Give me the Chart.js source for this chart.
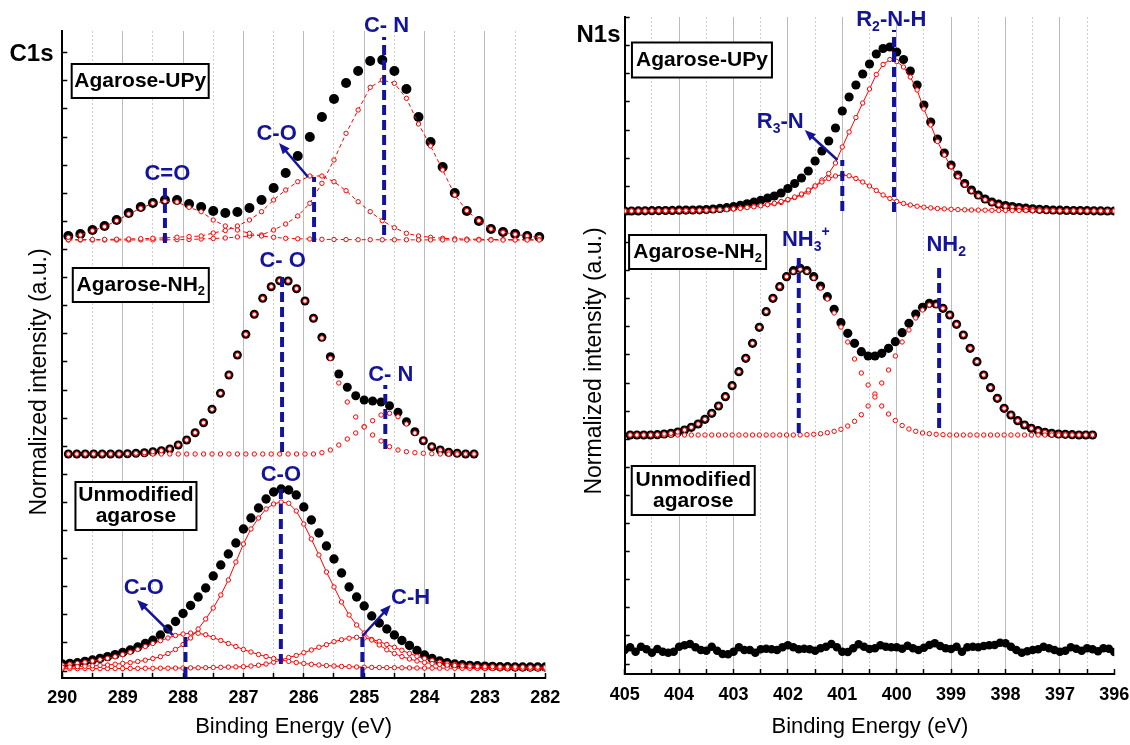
<!DOCTYPE html>
<html>
<head>
<meta charset="utf-8">
<script src="https://cdn.jsdelivr.net/npm/chart.js@4.4.1/dist/chart.umd.min.js"></script>
<style>
html, body { margin: 0; padding: 0; background: #fff; overflow: hidden; }
#wrap { position: relative; width: 1130px; height: 745px; overflow: hidden; }
canvas { position: absolute; top: 0; }
#c1s { left: 0; }
#n1s { left: 565px; }
</style>
</head>
<body>
<div id="wrap">
  <canvas id="c1s" width="600" height="745"></canvas>
  <canvas id="n1s" width="600" height="745"></canvas>
</div>
<script>
const FONT = "'Liberation Sans', Arial, Helvetica, sans-serif";
const BLUE = '#14149b';
const RED = '#ff0000';

// ---------- C1s : Agarose-UPy ----------
const c1sUpyE = [289.9, 289.7, 289.5, 289.3, 289.1, 288.9, 288.7, 288.5, 288.3, 288.1,
  287.9, 287.7, 287.5, 287.3, 287.1, 286.9, 286.7, 286.5, 286.3, 286.1,
  285.9, 285.7, 285.5, 285.3, 285.1, 284.9, 284.7, 284.5, 284.3, 284.1,
  283.9, 283.7, 283.5, 283.3, 283.1, 282.9, 282.7, 282.5, 282.3, 282.1];
const c1sUpyRaw = [4, 6, 10, 14, 20, 27, 33, 37, 40, 40,
  36, 33, 29, 27, 28, 32, 40, 52, 67, 84,
  103, 123, 141, 157, 169, 179, 180, 169, 151, 123,
  98, 73, 47, 29, 19, 11, 8, 6, 4, 3];
const c1sUpyCdO = [2.7, 5, 9.3, 13.3, 19.3, 26, 31.7, 36.7, 38.7, 38,
  32.7, 28.3, 20, 14, 10, 6.7, 4, 2.7, 1.7, 1.2,
  1, 0.7, 0.5, 0.4, 0.3, 0.3, 0.2, 0.2, 0.2, 0.1,
  0.1, 0.1, 0.1, 0, 0, 0, 0, 0, 0, 0];
const c1sUpyCO = [0.3, 0.4, 0.5, 0.6, 0.8, 1, 1.3, 1.7, 2.2, 2.8,
  3.4, 4, 7, 9.5, 14, 20, 28.3, 40, 50, 58.3,
  64, 64, 58.3, 49.3, 38.3, 28.3, 19.3, 12.3, 6.7, 4,
  2.7, 1.7, 1.2, 0.9, 0.7, 0.5, 0.4, 0.3, 0.3, 0.2];
const c1sUpyCN = [0, 0, 0, 0, 0, 0, 0.1, 0.1, 0.2, 0.3,
  0.5, 1, 1.5, 2, 3, 4, 5, 10, 16, 24,
  36.7, 56.7, 80, 106.7, 130, 152.7, 160, 156.7, 141.7, 116,
  94, 70, 45, 29.3, 19.3, 11, 7.7, 5.7, 4, 2.7];

// ---------- C1s : Agarose-NH2 ----------
const c1sNh2E = [289.9, 289.76, 289.62, 289.48, 289.34, 289.2, 289.06, 288.92, 288.78, 288.64,
  288.5, 288.36, 288.22, 288.08, 287.94, 287.8, 287.66, 287.52, 287.38, 287.24,
  287.1, 286.96, 286.82, 286.68, 286.54, 286.4, 286.26, 286.12, 285.98, 285.84,
  285.7, 285.56, 285.42, 285.28, 285.14, 285.0, 284.86, 284.72, 284.58, 284.44,
  284.3, 284.16, 284.02, 283.88, 283.74, 283.6, 283.46, 283.32, 283.18];
const c1sNh2Raw = [0, 0, 0, 0, 0, 0, 0, 0.3, 0.7, 1.3,
  2.3, 3.3, 5, 9, 14, 21.3, 31.3, 44.7, 60.7, 79,
  99, 119.7, 139.7, 155.7, 167.3, 173.3, 173, 165.3, 153, 135.7,
  116.7, 97.3, 80, 66.7, 58.3, 54, 53, 52, 48.3, 41.7,
  32.3, 22.3, 13.3, 7.3, 4, 1.7, 0.7, 0, 0];
const c1sNh2CO = [0, 0, 0, 0, 0, 0, 0, 0.3, 0.7, 1.3,
  2.3, 3.3, 5, 9, 14, 21.3, 31.3, 44.7, 60.7, 79,
  99, 119.7, 139.7, 155.7, 167.3, 173.3, 173, 165.3, 153, 135.7,
  116, 95.7, 71, 52, 37, 27, 19, 13, 7.3, 4,
  2.3, 1.3, 0.7, 0.3, 0, 0, 0, 0, 0];
const c1sNh2CN = [0, 0, 0, 0, 0, 0, 0, 0, 0, 0,
  0, 0, 0, 0, 0, 0, 0, 0, 0, 0,
  0, 0, 0, 0, 0, 0, 0, 0, 0, 0,
  1.3, 4, 9, 15, 21, 27.3, 33.3, 39, 40.7, 37.3,
  30, 21, 13.3, 7.3, 4, 1.7, 0.7, 0, 0];

// ---------- C1s : Unmodified agarose ----------
const c1sAgE = [290, 289.875, 289.75, 289.625, 289.5, 289.375, 289.25, 289.125, 289, 288.875,
  288.75, 288.625, 288.5, 288.375, 288.25, 288.125, 288, 287.875, 287.75, 287.625,
  287.5, 287.375, 287.25, 287.125, 287, 286.875, 286.75, 286.625, 286.5, 286.375,
  286.25, 286.125, 286, 285.875, 285.75, 285.625, 285.5, 285.375, 285.25, 285.125,
  285, 284.875, 284.75, 284.625, 284.5, 284.375, 284.25, 284.125, 284, 283.875,
  283.75, 283.625, 283.5, 283.375, 283.25, 283.125, 283, 282.875, 282.75, 282.625,
  282.5, 282.375, 282.25, 282.125, 282];
const c1sAgRaw = [5, 5.6, 6.3, 7.6, 9, 10.6, 12.4, 14.4, 16.5, 19,
  22, 25.5, 28.7, 34, 40, 47.5, 55.5, 63.5, 72, 81,
  93, 104, 115, 126, 140, 151, 161, 170, 177, 180,
  179, 174, 162, 149, 136, 123, 110, 96, 82, 72,
  63, 53, 46, 40, 34, 28.5, 23.5, 18.5, 14, 10.5,
  8, 6.3, 5, 4.2, 3.6, 3.2, 2.9, 2.6, 2.3, 2.2,
  2, 2, 2, 2, 2];
const c1sAgCO286 = [1.7, 2, 2.4, 2.8, 3.2, 3.6, 4, 4.8, 5.6, 6.4,
  7.5, 8.8, 10.4, 12.3, 15.5, 19.5, 24.5, 31, 40, 50,
  61, 74, 89, 107, 125, 140, 151, 160, 165, 167,
  165.7, 158, 145, 130, 114, 97, 82, 67, 54, 44,
  36, 29, 24, 19.2, 15.5, 12.4, 10, 8, 6.5, 5.5,
  4.6, 3.9, 3.5, 3.1, 2.8, 2.5, 2.3, 2.2, 2.1, 2,
  2, 1.9, 1.8, 1.8, 1.7];
const c1sAgCO288 = [4, 4.8, 5.7, 6.8, 8, 9.3, 10.7, 12.3, 14.5, 16.8,
  19.5, 22.5, 25.5, 28.3, 31, 33.5, 35, 36, 35.7, 34.3,
  31.5, 28.5, 25.5, 22.5, 19.5, 17, 14.5, 12.5, 10.5, 9,
  7.6, 6.5, 5.5, 4.7, 4, 3.4, 3, 2.6, 2.3, 2,
  1.8, 1.6, 1.5, 1.4, 1.3, 1.2, 1.1, 1, 0.9, 0.9,
  0.8, 0.8, 0.7, 0.7, 0.6, 0.6, 0.5, 0.5, 0.5, 0.4,
  0.4, 0.4, 0.3, 0.3, 0.3];
const c1sAgCH = [0.3, 0.3, 0.3, 0.4, 0.4, 0.4, 0.5, 0.5, 0.5, 0.6,
  0.6, 0.7, 0.7, 0.8, 0.8, 0.9, 1, 1.1, 1.2, 1.3,
  1.5, 1.7, 1.9, 2.1, 2.3, 3, 3.8, 5, 6.8, 9,
  11.5, 13.5, 16.3, 19, 21.8, 24.3, 27.3, 29.3, 30.8, 31.7,
  31, 29.5, 27.5, 24.5, 21.7, 18.7, 15.5, 12.7, 10.5, 8.6,
  6.8, 5.6, 4.6, 3.8, 3.2, 2.7, 2.2, 1.8, 1.5, 1.2,
  1, 0.8, 0.6, 0.4, 0.3];

// vertical stacking offsets of the C1s spectra
const c1sUpyOffset = 438;
const c1sNh2Offset = 224;
const c1sAgOffset = 9;

// ---------- N1s : Agarose-UPy ----------
const n1sUpyE = [405, 404.875, 404.75, 404.625, 404.5, 404.375, 404.25, 404.125, 404, 403.875,
  403.75, 403.625, 403.5, 403.375, 403.25, 403.125, 403, 402.875, 402.75, 402.625,
  402.5, 402.375, 402.25, 402.125, 402, 401.875, 401.75, 401.625, 401.5, 401.375,
  401.25, 401.125, 401, 400.875, 400.75, 400.625, 400.5, 400.375, 400.25, 400.125,
  400, 399.875, 399.75, 399.625, 399.5, 399.375, 399.25, 399.125, 399, 398.875,
  398.75, 398.625, 398.5, 398.375, 398.25, 398.125, 398, 397.875, 397.75, 397.625,
  397.5, 397.375, 397.25, 397.125, 397, 396.875, 396.75, 396.625, 396.5, 396.375,
  396.25, 396.125, 396];
const n1sUpyRaw = [0, 0, 0.1, 0.2, 0.3, 0.4, 0.5, 0.6, 0.8, 0.9,
  1, 1.2, 1.5, 2, 2.6, 3.3, 4.3, 5.7, 7.2, 8.8,
  10.6, 12.8, 15, 18, 22.5, 27.5, 33, 40, 50, 60,
  70, 83, 100, 114, 126, 137, 147, 157, 162.5, 164,
  159, 151.5, 140, 126, 106, 89, 72, 58, 46, 36,
  27.5, 21, 16, 12, 9, 6.8, 5.4, 4.4, 3.5, 2.8,
  2.2, 1.7, 1.3, 1, 0.8, 0.6, 0.5, 0.4, 0.3, 0.2,
  0.1, 0, 0];
const n1sUpyR3N = [0, 0, 0.1, 0.1, 0.2, 0.2, 0.3, 0.3, 0.4, 0.5,
  0.6, 0.7, 0.8, 1, 1.3, 1.6, 2.1, 2.7, 3.4, 4.2,
  5.2, 6.4, 7.8, 9.5, 11.5, 14, 17, 21, 25, 29,
  32.5, 35, 36, 35.2, 32.5, 29, 25, 20.5, 16, 12.5,
  9.5, 7.5, 6, 4.8, 3.8, 3.1, 2.5, 2.1, 1.7, 1.4,
  1.2, 1, 0.9, 0.8, 0.7, 0.6, 0.6, 0.5, 0.5, 0.4,
  0.4, 0.4, 0.3, 0.3, 0.3, 0.2, 0.2, 0.2, 0.1, 0.1,
  0.1, 0, 0];
const n1sUpyR2NH = [0, 0, 0, 0.1, 0.1, 0.2, 0.2, 0.3, 0.4, 0.4,
  0.4, 0.5, 0.7, 1, 1.3, 1.7, 2.2, 3, 3.8, 4.6,
  5.4, 6.4, 7.2, 8.5, 11, 13.5, 16, 19, 25, 31,
  37.5, 48, 64, 79, 93.5, 108, 122, 136.5, 146.5, 151.5,
  149.5, 144, 134, 121, 102, 86, 69.5, 56, 44.3, 34.6,
  26.3, 20, 15.1, 11.2, 8.3, 6.2, 4.8, 3.9, 3, 2.4,
  1.8, 1.3, 1, 0.7, 0.5, 0.4, 0.3, 0.2, 0.2, 0.1,
  0, 0, 0];

// ---------- N1s : Agarose-NH2 ----------
const n1sNh2E = [404.9, 404.775, 404.65, 404.525, 404.4, 404.275, 404.15, 404.025, 403.9, 403.775,
  403.65, 403.525, 403.4, 403.275, 403.15, 403.025, 402.9, 402.775, 402.65, 402.525,
  402.4, 402.275, 402.15, 402.025, 401.9, 401.775, 401.65, 401.525, 401.4, 401.275,
  401.15, 401.025, 400.9, 400.775, 400.65, 400.525, 400.4, 400.275, 400.15, 400.025,
  399.9, 399.775, 399.65, 399.525, 399.4, 399.275, 399.15, 399.025, 398.9, 398.775,
  398.65, 398.525, 398.4, 398.275, 398.15, 398.025, 397.9, 397.775, 397.65, 397.525,
  397.4, 397.275, 397.15, 397.025, 396.9, 396.775, 396.65, 396.525, 396.4];
const n1sNh2Raw = [0, 0, 0, 0, 0.3, 1, 1.7, 3, 5, 7.7,
  11, 15.7, 21.7, 29, 38.3, 49.3, 63.3, 76.7, 91.7, 107.7,
  123.3, 136.7, 148.3, 158.3, 164.3, 166.7, 164.3, 158.3, 149, 138.3,
  125.7, 112.3, 101.7, 91.7, 83.3, 79, 79, 81.7, 86.7, 93.3,
  102.3, 111.7, 121, 127.7, 131.7, 131, 126.7, 120, 110.7, 100,
  86.7, 73.3, 60, 47.3, 36.7, 26.7, 20, 14.3, 10, 6.7,
  4.3, 2.7, 1.7, 1, 0.7, 0.3, 0, 0, 0];
const n1sNh2NH3 = [0, 0, 0, 0, 0.3, 1, 1.7, 3, 5, 7.7,
  11, 15.7, 21.7, 29, 38.3, 49.3, 63.3, 76.7, 91.7, 107.7,
  123.3, 136.7, 148.3, 158.3, 163.5, 165.7, 163.5, 157, 147, 136,
  122, 108, 93, 76, 62, 50, 38, 29, 21, 14.5,
  9.5, 6, 3.7, 2, 1.3, 0.7, 0.3, 0, 0, 0,
  0, 0, 0, 0, 0, 0, 0, 0, 0, 0,
  0, 0, 0, 0, 0, 0, 0, 0, 0];
const n1sNh2NH2 = [0, 0, 0, 0, 0, 0, 0, 0, 0, 0,
  0, 0, 0, 0, 0, 0, 0, 0, 0, 0,
  0, 0, 0, 0, 0, 0, 0.3, 0.7, 1.3, 2.3,
  3.7, 5.7, 9, 13.7, 20.3, 29, 41, 52, 65, 79,
  93, 105, 117, 125, 130, 130, 126.7, 120, 110.7, 100,
  86.7, 73.3, 60, 47.3, 36.7, 26.7, 20, 14.3, 10, 6.7,
  4.3, 2.7, 1.7, 1, 0.7, 0.3, 0, 0, 0];

// ---------- N1s : Unmodified agarose ----------
const n1sAgE = [405, 404.9, 404.8, 404.7, 404.6, 404.5, 404.4, 404.3, 404.2, 404.1,
  404, 403.9, 403.8, 403.7, 403.6, 403.5, 403.4, 403.3, 403.2, 403.1,
  403, 402.9, 402.8, 402.7, 402.6, 402.5, 402.4, 402.3, 402.2, 402.1,
  402, 401.9, 401.8, 401.7, 401.6, 401.5, 401.4, 401.3, 401.2, 401.1,
  401, 400.9, 400.8, 400.7, 400.6, 400.5, 400.4, 400.3, 400.2, 400.1,
  400, 399.9, 399.8, 399.7, 399.6, 399.5, 399.4, 399.3, 399.2, 399.1,
  399, 398.9, 398.8, 398.7, 398.6, 398.5, 398.4, 398.3, 398.2, 398.1,
  398, 397.9, 397.8, 397.7, 397.6, 397.5, 397.4, 397.3, 397.2, 397.1,
  397, 396.9, 396.8, 396.7, 396.6, 396.5, 396.4, 396.3, 396.2, 396.1,
  396];
const n1sAgRaw = [9, 11.7, 7.3, 12.3, 9.7, 6.3, 10, 7.3, 6.3, 7.3,
  12.3, 13.7, 15, 11.7, 9, 8.3, 12.3, 8.3, 5, 4.7,
  7.3, 11.7, 9, 9, 6.3, 9.7, 10.3, 9.7, 9, 11.7,
  13.7, 11.7, 9.7, 10.3, 9.7, 8.3, 10.7, 12.3, 15, 11.7,
  7.3, 7, 10.7, 14.7, 12.3, 10, 10.7, 13.7, 12.3, 11.7,
  11.7, 10.3, 13.3, 10.7, 9, 11.3, 14, 15.7, 13, 10.7,
  10, 12.3, 7.3, 11.7, 12.3, 11.7, 13, 13.7, 14, 16.3,
  15.7, 12.3, 9, 6.3, 7.7, 9, 9.7, 12.3, 10.7, 9,
  7.3, 8.3, 11.7, 10.3, 8.3, 10.7, 9.7, 7.7, 10.7, 10.3,
  7];

const n1sUpyOffset = 463;
const n1sNh2Offset = 239;
const n1sAgOffset = 15;

// peak assignment markers: [energy, from, to]
const c1sMarkers = [[284.67, 443, 641], [285.83, 436, 501], [288.3, 435, 490],
  [286.36, 226, 403], [284.65, 229, 293],
  [286.38, 14, 193], [287.96, 1, 45], [285.03, 1, 41]];
const n1sMarkers = [[400.05, 462, 644], [401.0, 463, 514], [401.8, 241, 421], [399.22, 246, 407]];

// ---------- helpers ----------
function pts(e, v, off) { return e.map((x, i) => ({ x: x, y: v[i] + off })); }

function raw(e, v, off, r) {
  return { data: pts(e, v, off), showLine: false, pointRadius: r, pointHoverRadius: r,
    pointBackgroundColor: '#000', pointBorderColor: '#000', pointBorderWidth: 0, order: 2 };
}

function fit(e, v, off, line) {
  return { data: pts(e, v, off), showLine: line !== 'none', borderColor: RED, borderWidth: 1,
    borderDash: line === 'dash' ? [4, 3] : [], pointRadius: 2.2, pointHoverRadius: 2.2,
    pointBorderColor: RED, pointBorderWidth: 1, pointBackgroundColor: '#fff', order: 1 };
}

function marker(m) {
  return { data: [{ x: m[0], y: m[1] }, { x: m[0], y: m[2] }], showLine: true,
    borderColor: BLUE, borderWidth: 4, borderDash: [10, 5], pointRadius: 0, order: 0 };
}

function drawRuns(ctx, cx, cy, runs, size, color) {
  const fonts = runs.map(r => 'bold ' + (r[1] ? Math.round(size * 0.62) : size) + 'px ' + FONT);
  let w = 0;
  const ws = runs.map((r, i) => { ctx.font = fonts[i]; const m = ctx.measureText(r[0]).width; w += m; return m; });
  let x = cx - w / 2;
  ctx.fillStyle = color;
  ctx.textAlign = 'left';
  ctx.textBaseline = 'middle';
  runs.forEach((r, i) => {
    ctx.font = fonts[i];
    const dy = r[1] === -1 ? size * 0.32 : r[1] === 1 ? -size * 0.36 : 0;
    ctx.fillText(r[0], x, cy + dy);
    x += ws[i];
  });
}

function arrow(ctx, x1, y1, x2, y2) {
  const a = Math.atan2(y2 - y1, x2 - x1), L = 11, W = 4.5;
  ctx.strokeStyle = BLUE;
  ctx.fillStyle = BLUE;
  ctx.lineWidth = 2.5;
  ctx.beginPath();
  ctx.moveTo(x1, y1);
  ctx.lineTo(x2 - L * 0.8 * Math.cos(a), y2 - L * 0.8 * Math.sin(a));
  ctx.stroke();
  ctx.beginPath();
  ctx.moveTo(x2, y2);
  ctx.lineTo(x2 - L * Math.cos(a) + W * Math.sin(a), y2 - L * Math.sin(a) - W * Math.cos(a));
  ctx.lineTo(x2 - L * Math.cos(a) - W * Math.sin(a), y2 - L * Math.sin(a) + W * Math.cos(a));
  ctx.closePath();
  ctx.fill();
}

function annotate(cfg) {
  return {
    id: 'annotate',
    afterDraw(chart) {
      const { ctx, chartArea: a, scales: { x, y } } = chart;
      const px = v => x.getPixelForValue(v), py = v => y.getPixelForValue(v);
      ctx.save();
      ctx.fillStyle = '#000';
      ctx.textAlign = 'center';
      ctx.textBaseline = 'middle';
      ctx.font = 'bold 24px ' + FONT;
      ctx.fillText(cfg.panel, a.left + cfg.panelAt[0], a.top + cfg.panelAt[1]);
      ctx.font = '23px ' + FONT;
      ctx.save();
      ctx.translate(a.left + cfg.yTitleAt[0], a.top + cfg.yTitleAt[1]);
      ctx.rotate(-Math.PI / 2);
      ctx.fillText('Normalized intensity (a.u.)', 0, 0);
      ctx.restore();
      ctx.font = '22px ' + FONT;
      ctx.fillText('Binding Energy (eV)', a.left + cfg.xTitleAt[0], a.bottom + cfg.xTitleAt[1]);

      cfg.boxes.forEach(b => {
        const cx = px(b.x), cy = py(b.y);
        ctx.fillStyle = '#fff';
        ctx.fillRect(cx - b.w / 2, cy - b.h / 2, b.w, b.h);
        ctx.lineWidth = 2;
        ctx.strokeStyle = '#000';
        ctx.strokeRect(cx - b.w / 2, cy - b.h / 2, b.w, b.h);
        b.lines.forEach((runs, i) => drawRuns(ctx, cx, cy + (i - (b.lines.length - 1) / 2) * 21, runs, 21, '#000'));
      });
      cfg.arrows.forEach(r => arrow(ctx, px(r[0]), py(r[1]), px(r[2]), py(r[3])));
      cfg.labels.forEach(l => drawRuns(ctx, px(l.x), py(l.y), l.t, 22, BLUE));
      ctx.restore();
    }
  };
}

function xScale(min, max, h, pad) {
  return {
    type: 'linear', reverse: true, min: min, max: max,
    afterFit: s => { s.height = h; },
    ticks: { stepSize: 0.5, padding: pad, color: '#000', autoSkip: false, maxRotation: 0,
      font: { family: FONT, size: 18, weight: 'bold' },
      callback: v => Number.isInteger(v) ? String(v) : '' },
    grid: {
      color: c => (!c.tick || c.tick.value === min) ? 'rgba(0,0,0,0)' :
        (Number.isInteger(c.tick.value) ? '#bbbbbb' : '#cdcdcd'),
      lineWidth: 1, drawTicks: true, tickLength: -5, tickColor: '#000', tickWidth: 1.5, tickBorderDash: []
    },
    border: { display: true, color: '#000', width: 2,
      dash: c => (c.tick && !Number.isInteger(c.tick.value)) ? [2, 2] : [] }
  };
}

function yScale(max, w, start) {
  return {
    type: 'linear', min: 0, max: max,
    afterFit: s => { s.width = w; },
    afterBuildTicks: s => {
      const t = [];
      for (let v = start; v < max; v += 28.1) t.push({ value: v });
      s.ticks = t;
    },
    ticks: { display: false },
    grid: { drawOnChartArea: false, drawTicks: true, tickLength: -5, tickColor: '#000', tickWidth: 1.5 },
    border: { display: true, color: '#000', width: 2 }
  };
}

const common = { responsive: false, animation: false, devicePixelRatio: 1,
  events: [], plugins: { legend: { display: false }, tooltip: { enabled: false } } };

// ---------- C1s chart ----------
new Chart(document.getElementById('c1s'), {
  type: 'scatter',
  data: { datasets: [
    raw(c1sUpyE, c1sUpyRaw, c1sUpyOffset, 5),
    fit(c1sUpyE, c1sUpyCdO, c1sUpyOffset, 'dash'),
    fit(c1sUpyE, c1sUpyCO, c1sUpyOffset, 'dash'),
    fit(c1sUpyE, c1sUpyCN, c1sUpyOffset, 'dash'),
    raw(c1sNh2E, c1sNh2Raw, c1sNh2Offset, 4.5),
    fit(c1sNh2E, c1sNh2CO, c1sNh2Offset, 'none'),
    fit(c1sNh2E, c1sNh2CN, c1sNh2Offset, 'none'),
    raw(c1sAgE, c1sAgRaw, c1sAgOffset, 4.7),
    fit(c1sAgE, c1sAgCO286, c1sAgOffset, 'solid'),
    fit(c1sAgE, c1sAgCO288, c1sAgOffset, 'solid'),
    fit(c1sAgE, c1sAgCH, c1sAgOffset, 'solid')
  ].concat(c1sMarkers.map(marker)) },
  options: Object.assign({}, common, {
    layout: { padding: { left: 0, right: 54.7, top: 31, bottom: 0 } },
    scales: { x: xScale(282, 290, 67, 14), y: yScale(647, 62.3, 7) }
  }),
  plugins: [annotate({
    panel: 'C1s', panelAt: [-30.8, 23], yTitleAt: [-22.3, 351], xTitleAt: [231.3, 49],
    boxes: [
      { x: 288.71, y: 597, w: 137, h: 34, lines: [[['Agarose-UPy', 0]]] },
      { x: 288.70, y: 393, w: 136, h: 34, lines: [[['Agarose-NH', 0], ['2', -1]]] },
      { x: 288.78, y: 172, w: 121, h: 48, lines: [[['Unmodified', 0]], [['agarose', 0]]] }
    ],
    labels: [
      { x: 284.63, y: 652, t: [['C- N', 0]] },
      { x: 286.45, y: 544, t: [['C-O', 0]] },
      { x: 288.26, y: 504, t: [['C=O', 0]] },
      { x: 286.35, y: 417.5, t: [['C- O', 0]] },
      { x: 284.56, y: 303.5, t: [['C- N', 0]] },
      { x: 286.38, y: 203, t: [['C-O', 0]] },
      { x: 288.65, y: 90, t: [['C-O', 0]] },
      { x: 284.23, y: 80, t: [['C-H', 0]] }
    ],
    arrows: [[285.93, 501, 286.41, 535], [288.17, 43, 288.76, 78], [285.03, 42, 284.56, 73]]
  })]
});

// ---------- N1s chart ----------
new Chart(document.getElementById('n1s'), {
  type: 'scatter',
  data: { datasets: [
    raw(n1sUpyE, n1sUpyRaw, n1sUpyOffset, 4.6),
    fit(n1sUpyE, n1sUpyR3N, n1sUpyOffset, 'solid'),
    fit(n1sUpyE, n1sUpyR2NH, n1sUpyOffset, 'solid'),
    raw(n1sNh2E, n1sNh2Raw, n1sNh2Offset, 4.6),
    fit(n1sNh2E, n1sNh2NH3, n1sNh2Offset, 'none'),
    fit(n1sNh2E, n1sNh2NH2, n1sNh2Offset, 'none'),
    raw(n1sAgE, n1sAgRaw, n1sAgOffset, 4.3)
  ].concat(n1sMarkers.map(marker)) },
  options: Object.assign({}, common, {
    layout: { padding: { left: 0, right: 50.7, top: 17, bottom: 0 } },
    scales: { x: xScale(396, 405, 71, 15), y: yScale(657, 59.7, 10) }
  }),
  plugins: [annotate({
    panel: 'N1s', panelAt: [-26.2, 18], yTitleAt: [-29.7, 344], xTitleAt: [245.3, 53],
    boxes: [
      { x: 403.58, y: 614, w: 140, h: 35, lines: [[['Agarose-UPy', 0]]] },
      { x: 403.66, y: 422, w: 137, h: 34, lines: [[['Agarose-NH', 0], ['2', -1]]] },
      { x: 403.74, y: 183.5, w: 123, h: 49, lines: [[['Unmodified', 0]], [['agarose', 0]]] }
    ],
    labels: [
      { x: 400.10, y: 654, t: [['R', 0], ['2', -1], ['-N-H', 0]] },
      { x: 402.14, y: 552, t: [['R', 0], ['3', -1], ['-N', 0]] },
      { x: 401.67, y: 434, t: [['NH', 0], ['3', -1], ['+', 1]] },
      { x: 399.09, y: 429, t: [['NH', 0], ['2', -1]] }
    ],
    arrows: [[401.09, 514, 401.69, 544]]
  })]
});
</script>
</body>
</html>
